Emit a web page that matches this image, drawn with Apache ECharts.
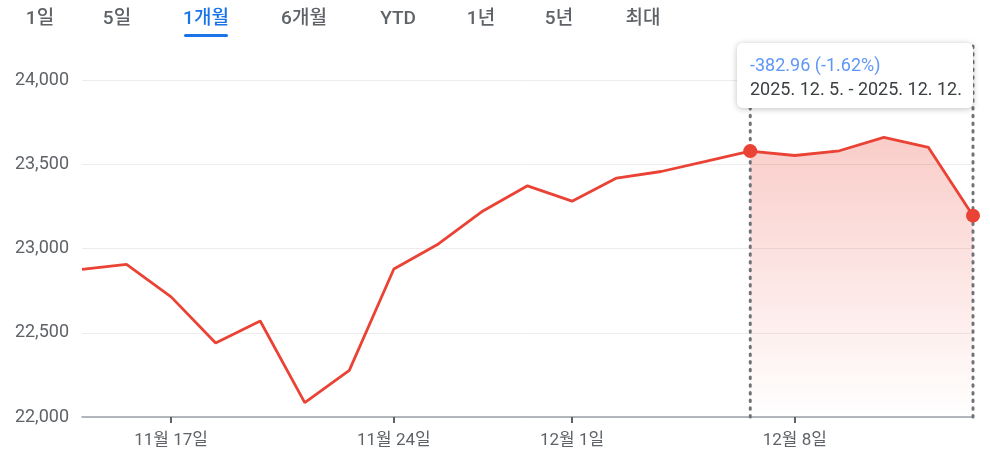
<!DOCTYPE html>
<html><head><meta charset="utf-8">
<script src="https://cdn.jsdelivr.net/npm/echarts@6/dist/echarts.min.js"></script>
<style>html,body{margin:0;padding:0;background:#fff}#c{width:990px;height:459px}</style>
</head><body><div id="c"></div>
<script>
const categories = ['11월 13일','11월 14일','11월 17일','11월 18일','11월 19일','11월 20일','11월 21일','11월 24일','11월 25일','11월 26일','11월 28일','12월 1일','12월 2일','12월 3일','12월 4일','12월 5일','12월 8일','12월 9일','12월 10일','12월 11일','12월 12일'];
const values = [22876,22906,22713,22439,22570,22085,22277,22878,23027,23223,23372,23281,23418,23457,23517,23578,23552,23580,23660,23600,23195];
const xTickLabels = ['11월 17일','11월 24일','12월 1일','12월 8일'];
const yTicks = [22000,22500,23000,23500,24000];
const rangeStart = '12월 5일', rangeEnd = '12월 12일';
const tabs = ['1일','5일','1개월','6개월','YTD','1년','5년','최대'];
const selectedTab = '1개월';
const changeText = '-382.96 (-1.62%)';
const rangeText = '2025. 12. 5. - 2025. 12. 12.';

const FONT = 'Roboto, "Noto Sans CJK KR", sans-serif';
const i0 = categories.indexOf(rangeStart), i1 = categories.indexOf(rangeEnd);
const areaData = values.map((v,i)=> (i>=i0 && i<=i1) ? v : null);
const dotData = values.map((v,i)=> (i===i0||i===i1) ? {value:v, symbol:'circle', symbolSize:14} : {value:null});

const tabX = [40,117,206,304,398,481,559,643];
const graphics = tabs.map((t,k)=>({type:'text', x:tabX[k], y:19, style:{text:t, align:'center', verticalAlign:'middle', font:'500 19px '+FONT, fill: t===selectedTab?'#1a73e8':'#5f6368'}}));
graphics.push({type:'rect', x:184, y:34, shape:{width:44,height:3,r:1.5}, style:{fill:'#1a73e8'}});
graphics.push({type:'rect', x:737, y:43, z:100, shape:{width:236,height:65,r:6}, style:{fill:'#fff', shadowBlur:6, shadowColor:'rgba(0,0,0,0.25)', shadowOffsetY:1}});
graphics.push({type:'text', x:750, y:66, z:101, style:{text:changeText, verticalAlign:'middle', font:'18px '+FONT, fill:'#5e97f6'}});
graphics.push({type:'text', x:750, y:90, z:101, style:{text:rangeText, verticalAlign:'middle', font:'18px '+FONT, fill:'#3c4043'}});

const chart = echarts.init(document.getElementById('c'));
chart.setOption({
  animation:false,
  grid:{left:82, right:17, top:80, bottom:42},
  xAxis:{type:'category', data:categories, boundaryGap:false,
    axisLine:{lineStyle:{color:'#9aa0a6', width:1.5}},
    axisTick:{show:true, length:6, lineStyle:{color:'#5f6368', width:2}, interval:(i,v)=>xTickLabels.includes(v)},
    axisLabel:{interval:(i,v)=>xTickLabels.includes(v), color:'#5f6368', fontSize:17, fontFamily:FONT, margin:15},
    splitLine:{show:false}},
  yAxis:{type:'value', min:yTicks[0], max:yTicks[yTicks.length-1], interval:500,
    axisLine:{show:false}, axisTick:{show:false},
    axisLabel:{color:'#5f6368', fontSize:18, fontFamily:FONT, margin:13},
    splitLine:{lineStyle:{color:'#ececec', width:1}}},
  graphic:graphics,
  series:[
    {type:'line', data:values, symbol:'none', lineStyle:{color:'#ea4335', width:2.8}, z:3},
    {type:'line', data:areaData, symbol:'none', lineStyle:{width:0, opacity:0}, z:2,
     areaStyle:{origin:'start', color:new echarts.graphic.LinearGradient(0,0,0,1,[{offset:0,color:'rgba(234,67,53,0.38)'},{offset:1,color:'rgba(234,67,53,0)'}])}},
    {type:'custom', z:5, clip:false, data:[[i0],[i1]],
     renderItem:(params, api)=>{
       const bottom = api.coord([api.value(0), yTicks[0]]);
       const top = api.coord([api.value(0), 24220]);
       return {type:'line', shape:{x1:bottom[0], y1:bottom[1], x2:top[0], y2:top[1]},
         style:{stroke:'#6f7378', lineWidth:3, lineDash:[1.5,6.2], lineCap:'round'}};
     }},
    {type:'line', data:dotData, showSymbol:true, symbol:'none', lineStyle:{width:0,opacity:0}, itemStyle:{color:'#ea4335'}, z:6}
  ]
});
</script></body></html>
